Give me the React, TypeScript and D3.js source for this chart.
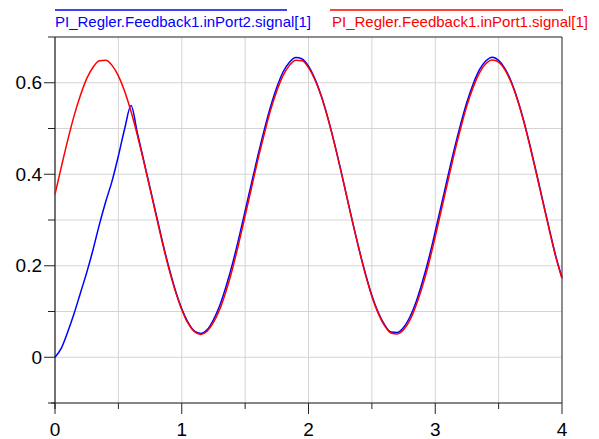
import { scaleLinear, line, curveMonotoneX, range } from "d3";

const xValues = range(0, 81).map((i) => i / 20);

// inPort1 signal (red), read every 0.05 s
const inPort1 = [
  0.356, 0.416, 0.474, 0.527, 0.572, 0.609, 0.634, 0.648, 0.649, 0.638,
  0.615, 0.581, 0.537, 0.485, 0.428, 0.368, 0.307, 0.247, 0.192, 0.144,
  0.104, 0.074, 0.056, 0.05, 0.057, 0.076, 0.105, 0.145, 0.193, 0.249,
  0.309, 0.37, 0.431, 0.487, 0.539, 0.582, 0.616, 0.638, 0.649, 0.648,
  0.633, 0.607, 0.571, 0.525, 0.472, 0.414, 0.353, 0.292, 0.234, 0.18,
  0.133, 0.096, 0.069, 0.053, 0.051, 0.06, 0.081, 0.114, 0.156, 0.206,
  0.264, 0.324, 0.385, 0.445, 0.5, 0.55, 0.591, 0.622, 0.642, 0.65,
  0.645, 0.628, 0.6, 0.561, 0.513, 0.458, 0.399, 0.338, 0.278, 0.22,
  0.172,
];

// inPort2 signal (blue)
const inPort2 = [
  0.0, 0.02, 0.055, 0.095, 0.14, 0.185, 0.235, 0.29, 0.34, 0.385,
  0.44, 0.5, 0.55, 0.49, 0.43, 0.37, 0.31, 0.25, 0.195, 0.146,
  0.106, 0.076, 0.057, 0.052, 0.06, 0.082, 0.113, 0.155, 0.204, 0.26,
  0.32, 0.38, 0.44, 0.496, 0.547, 0.59, 0.624, 0.645, 0.655, 0.652,
  0.636, 0.609, 0.572, 0.526, 0.473, 0.415, 0.354, 0.293, 0.235, 0.182,
  0.135, 0.098, 0.071, 0.055, 0.054, 0.065, 0.088, 0.122, 0.166, 0.217,
  0.275, 0.335, 0.396, 0.455, 0.509, 0.558, 0.598, 0.629, 0.648, 0.656,
  0.649, 0.631, 0.602, 0.563, 0.515, 0.46, 0.401, 0.34, 0.28, 0.222,
  0.174,
];

const legendLabels = [
  "PI_Regler.Feedback1.inPort2.signal[1]",
  "PI_Regler.Feedback1.inPort1.signal[1]",
];
const xTickLabels = [0, 1, 2, 3, 4];
const yTickLabels = [0, 0.2, 0.4, 0.6];

export default function App() {
  const left = 55;
  const right = 562;
  const top = 37;
  const bottom = 403;

  const x = scaleLinear().domain([0, 4]).range([left, right]);
  const y = scaleLinear().domain([-0.1, 0.7]).range([bottom, top]);

  const makeLine = (vals: number[]) =>
    line<number>()
      .curve(curveMonotoneX)
      .x((_, i) => x(xValues[i]))
      .y((d) => y(d))(vals);

  const xGrid = range(0, 9).map((i) => i * 0.5);
  const yGrid = range(-1, 8).map((i) => i / 10);
  const font = "Liberation Sans, Arial, sans-serif";

  return (
    <svg
      width={599}
      height={439}
      style={{ position: "absolute", left: 0, top: 0, background: "#fff" }}
      fontFamily={font}
    >
      {/* grid */}
      {xGrid.map((g) => (
        <line key={"gx" + g} x1={x(g)} x2={x(g)} y1={top} y2={bottom} stroke="#d4d4d4" strokeWidth={1} />
      ))}
      {yGrid.map((g) => (
        <line key={"gy" + g} x1={left} x2={right} y1={y(g)} y2={y(g)} stroke="#d4d4d4" strokeWidth={1} />
      ))}

      {/* frame */}
      <line x1={left} x2={right} y1={top} y2={top} stroke="#333" />
      <line x1={right} x2={right} y1={top} y2={bottom} stroke="#333" />

      {/* y axis */}
      <line x1={left} x2={left} y1={top} y2={bottom + 6} stroke="#222" strokeWidth={1.2} />
      {yGrid.map((g, i) => (
        <line key={"ty" + g} x1={left - (i % 2 === 1 ? 11 : 7)} x2={left} y1={y(g)} y2={y(g)} stroke="#222" />
      ))}
      {yTickLabels.map((v) => (
        <text key={"ly" + v} x={left - 13} y={y(v) + 6.5} textAnchor="end" fontSize={19} fill="#000">
          {String(v)}
        </text>
      ))}

      {/* x axis */}
      <line x1={left - 4} x2={right} y1={bottom} y2={bottom} stroke="#222" strokeWidth={1.2} />
      {xGrid.map((g, i) => (
        <line key={"tx" + g} x1={x(g)} x2={x(g)} y1={bottom} y2={bottom + (i % 2 === 0 ? 11 : 6)} stroke="#222" />
      ))}
      {xTickLabels.map((v) => (
        <text key={"lx" + v} x={x(v)} y={435.5} textAnchor="middle" fontSize={19} fill="#000">
          {String(v)}
        </text>
      ))}

      {/* series */}
      <path d={makeLine(inPort2)!} fill="none" stroke="#0000ff" strokeWidth={1.5} />
      <path d={makeLine(inPort1)!} fill="none" stroke="#ff0000" strokeWidth={1.5} />

      {/* legend */}
      <line x1={55} x2={287} y1={10} y2={10} stroke="#0000ff" strokeWidth={1.5} />
      <text x={55} y={27} fontSize={15} fill="#0000ff">
        {legendLabels[0]}
      </text>
      <line x1={330} x2={563} y1={10} y2={10} stroke="#ff0000" strokeWidth={1.5} />
      <text x={332} y={27} fontSize={15} fill="#ff0000">
        {legendLabels[1]}
      </text>
    </svg>
  );
}
